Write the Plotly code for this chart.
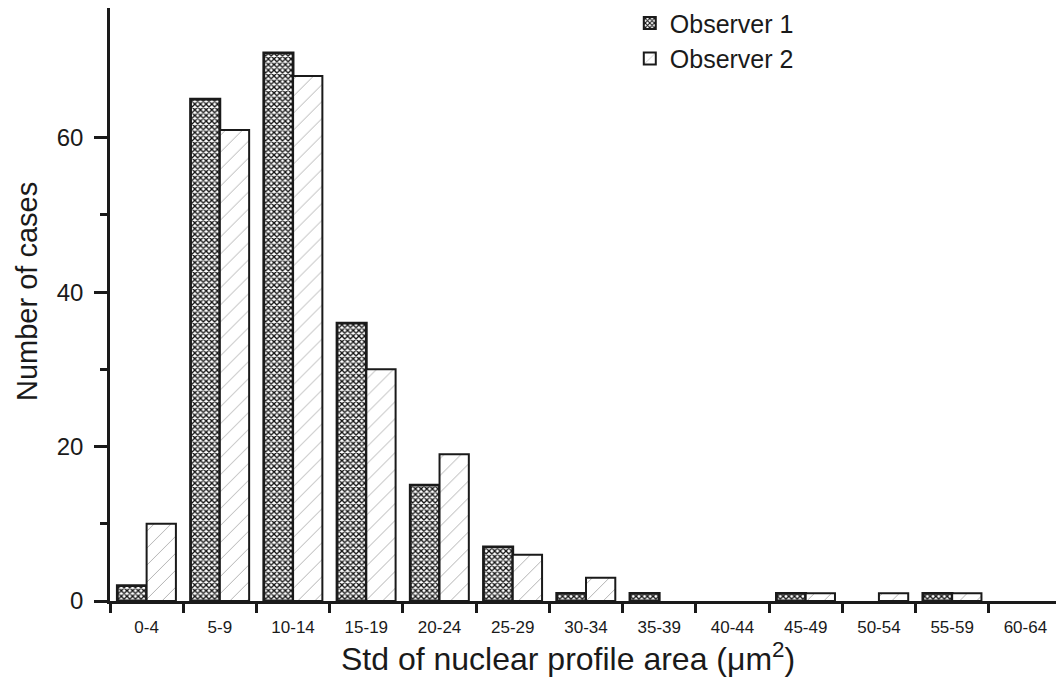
import plotly.graph_objects as go

categories = ["0-4", "5-9", "10-14", "15-19", "20-24", "25-29", "30-34",
              "35-39", "40-44", "45-49", "50-54", "55-59", "60-64"]
observer1 = [2, 65, 71, 36, 15, 7, 1, 1, 0, 1, 0, 1, 0]
observer2 = [10, 61, 68, 30, 19, 6, 3, 0, 0, 1, 1, 1, 0]
y_ticks = [0, 20, 40, 60]
y_minor_ticks = [10, 30, 50]

FONT = "Liberation Sans, Arial, sans-serif"
INK = "#1a1a1a"

# page body adds an 8px margin, so the figure is sized to fill the window
W, H = 1056, 679
ML, MR, MT, MB = 102, 2, 0, 86
PW, PH = W - ML - MR, H - MT - MB

fig = go.Figure()
fig.add_trace(go.Bar(
    x=categories, y=observer1, name="Observer 1",
    marker=dict(color="white",
                line=dict(color=INK, width=[2.8 if v > 0 else 0 for v in observer1]),
                pattern=dict(shape="x", fgcolor="#111111", bgcolor="#ffffff",
                             size=4, solidity=0.55, fillmode="replace")),
))
fig.add_trace(go.Bar(
    x=categories, y=observer2, name="Observer 2",
    marker=dict(color="white",
                line=dict(color=INK, width=[2 if v > 0 else 0 for v in observer2]),
                pattern=dict(shape="/", fgcolor="#b0b0b0", bgcolor="#ffffff",
                             size=12, solidity=0.08, fillmode="replace")),
))

fig.update_layout(
    width=W, height=H,
    margin=dict(l=ML, r=MR, t=MT, b=MB, autoexpand=False),
    paper_bgcolor="white", plot_bgcolor="white",
    barmode="group", bargap=0.2, bargroupgap=0.0,
    font=dict(family=FONT, color=INK),
    showlegend=True,
    legend=dict(x=0.546, y=1.013, xanchor="left", yanchor="top",
                font=dict(size=25, family=FONT), bgcolor="rgba(0,0,0,0)",
                itemsizing="constant"),
    annotations=[
        dict(text="Number of cases", textangle=-90, showarrow=False,
             xref="paper", yref="paper", x=(19 - ML) / PW, y=(593 - 284) / PH,
             xanchor="center", yanchor="middle",
             font=dict(size=29, family=FONT, color=INK)),
        dict(text="Std of nuclear profile area (μm<sup>2</sup>)", showarrow=False,
             xref="paper", yref="paper", x=(560 - ML) / PW, y=-(671 - 593) / PH,
             xanchor="center", yanchor="bottom",
             font=dict(size=32, family=FONT, color=INK)),
    ],
)
fig.update_xaxes(
    type="category", range=[-0.5, 12.5], automargin=False,
    showline=True, linecolor=INK, linewidth=2.5,
    ticks="outside", tickson="boundaries", ticklen=9, tickwidth=2.5,
    tickcolor=INK, ticklabelstandoff=9,
    tickfont=dict(size=17, family=FONT),
    showgrid=False, zeroline=False,
)
fig.update_yaxes(
    range=[0, 76.8], automargin=False,
    showline=True, linecolor=INK, linewidth=2.5,
    ticks="outside", ticklen=13, tickwidth=2.5, tickcolor=INK,
    tickvals=y_ticks, ticklabelstandoff=6,
    tickfont=dict(size=24, family=FONT),
    minor=dict(tickvals=y_minor_ticks, ticks="outside", ticklen=7,
               tickwidth=2.5, tickcolor=INK, showgrid=False),
    showgrid=False, zeroline=False,
)

fig.write_html("out.html")
